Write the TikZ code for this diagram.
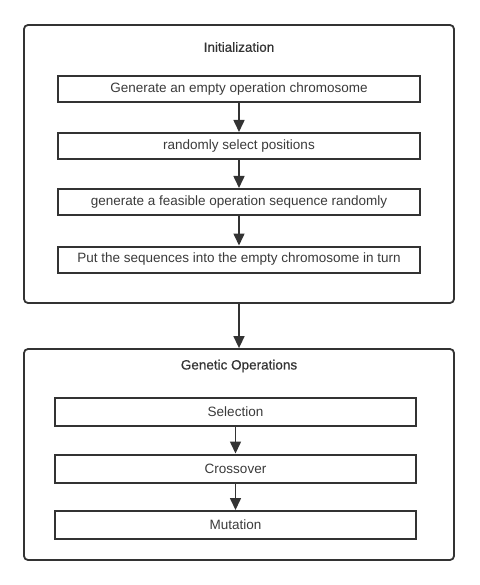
\documentclass[tikz,border=0pt]{standalone}
\usepackage{fontspec}
\setmainfont{Liberation Sans}
\newfontfamily\titlefont[FakeBold=0.6]{Liberation Sans}
\usetikzlibrary{arrows.meta}
\definecolor{edge}{HTML}{333333}
\definecolor{txt}{HTML}{3A3A3A}
\tikzset{
  outerbox/.style={draw=edge, line width=1.8pt, rounded corners=4pt, minimum width=430pt, inner sep=0pt},
  stepbox/.style={draw=edge, line width=2pt, minimum height=26pt, inner sep=0pt, font=\fontsize{13.5}{15}\selectfont, text=txt},
  titletext/.style={font=\titlefont\fontsize{13.5}{15}\selectfont, text=edge, inner sep=0pt},
  flow/.style={draw=edge, line width=1.6pt, -{Triangle[length=12pt,width=11pt]}}
}
\begin{document}
\begin{tikzpicture}[x=1pt,y=-1pt]
\useasboundingbox (0,0) rectangle (479,585);
\node[outerbox, minimum height=278pt] (init) at (239,164) {};
\node[outerbox, minimum height=211pt] (gen) at (239,454.5) {};
\node[titletext] (t1) at (239,47) {Initialization};
\node[titletext] (t2) at (239,366) {Genetic Operations};
\node[stepbox, minimum width=362pt] (a1) at (239,89) {Generate an empty operation chromosome};
\node[stepbox, minimum width=362pt] (a2) at (239,146) {randomly select positions};
\node[stepbox, minimum width=362pt] (a3) at (239,202) {generate a feasible operation sequence randomly};
\node[stepbox, minimum width=362pt] (a4) at (239,259.5) {Put the sequences into the empty chromosome in turn};
\node[stepbox, minimum width=361pt, minimum height=28pt] (b1) at (235.5,411.5) {Selection};
\node[stepbox, minimum width=361pt, minimum height=28pt] (b2) at (235.5,468.5) {Crossover};
\node[stepbox, minimum width=361pt, minimum height=28pt] (b3) at (235.5,525) {Mutation};
\draw[flow] (a1) -- (a2);
\draw[flow] (a2) -- (a3);
\draw[flow] (a3) -- (a4);
\draw[flow] (init) -- (gen);
\draw[flow] (b1) -- (b2);
\draw[flow] (b2) -- (b3);
\end{tikzpicture}
\end{document}
